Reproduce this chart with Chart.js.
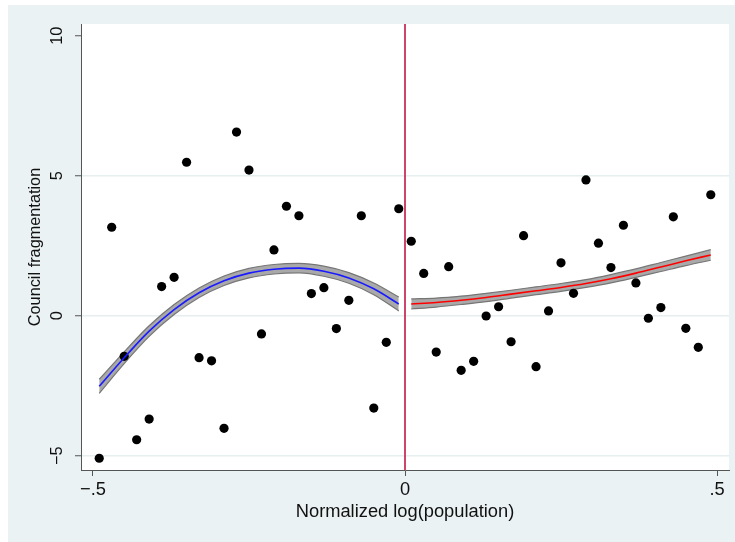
<!DOCTYPE html>
<html>
<head>
<meta charset="utf-8">
<script src="https://cdn.jsdelivr.net/npm/chart.js@4.4.0/dist/chart.umd.min.js"></script>
<style>
  html, body { margin: 0; padding: 0; background: #ffffff; }
  #wrap { width: 735px; height: 542px; }
</style>
</head>
<body>
<div id="wrap"><canvas id="c" width="735" height="542"></canvas></div>
<script>
// ---- data ----
const popLeft = [-0.49,-0.47,-0.45,-0.43,-0.41,-0.39,-0.37,-0.35,-0.33,-0.31,-0.29,-0.27,-0.25,-0.23,-0.21,-0.19,-0.17,-0.15,-0.13,-0.11,-0.09,-0.07,-0.05,-0.03,-0.01];
const fragLeft = [-5.09,3.16,-1.45,-4.43,-3.69,1.04,1.37,5.48,-1.50,-1.61,-4.02,6.56,5.20,-0.65,2.35,3.91,3.57,0.79,1.00,-0.46,0.55,3.57,-3.30,-0.95,3.82];
const popRight = [0.01,0.03,0.05,0.07,0.09,0.11,0.13,0.15,0.17,0.19,0.21,0.23,0.25,0.27,0.29,0.31,0.33,0.35,0.37,0.39,0.41,0.43,0.45,0.47,0.49];
const fragRight = [2.66,1.51,-1.30,1.75,-1.95,-1.63,-0.01,0.32,-0.93,2.86,-1.82,0.17,1.89,0.80,4.85,2.59,1.72,3.23,1.17,-0.09,0.29,3.53,-0.45,-1.13,4.32];

// fitted curves with confidence bands
const fitXLeft = [-0.49,-0.45,-0.41,-0.37,-0.33,-0.29,-0.25,-0.21,-0.17,-0.13,-0.09,-0.05,-0.01];
const fitLeft  = [-2.52,-1.50,-0.55,0.22,0.82,1.25,1.52,1.66,1.70,1.59,1.35,0.96,0.42];
const ciLoLeft = [-2.77,-1.71,-0.74,0.04,0.65,1.08,1.35,1.49,1.53,1.41,1.16,0.75,0.17];
const ciHiLeft = [-2.27,-1.29,-0.36,0.40,0.99,1.42,1.69,1.83,1.87,1.77,1.54,1.17,0.67];

const fitXRight = [0.01,0.05,0.09,0.13,0.17,0.21,0.25,0.29,0.33,0.37,0.41,0.45,0.49];
const fitRight  = [0.42,0.47,0.55,0.65,0.77,0.89,1.01,1.15,1.32,1.52,1.74,1.96,2.17];
const ciLoRight = [0.24,0.31,0.40,0.50,0.63,0.75,0.87,1.01,1.17,1.37,1.58,1.79,1.98];
const ciHiRight = [0.60,0.63,0.70,0.80,0.91,1.03,1.15,1.29,1.47,1.67,1.90,2.13,2.36];

const cutoff = 0;

const xTickValues = [-0.5, 0, 0.5];
const xTickLabels = ['\u2212.5', '0', '.5'];
const yTickValues = [-5, 0, 5, 10];
const yTickLabels = ['\u22125', '0', '5', '10'];

const xTitle = 'Normalized log(population)';
const yTitle = 'Council fragmentation';

// ---- helpers ----
const pts = (xs, ys) => xs.map((x, i) => ({ x: x, y: ys[i] }));

const bgPlugin = {
  id: 'bgPlugin',
  beforeDraw(chart) {
    const { ctx, chartArea: a } = chart;
    ctx.save();
    ctx.fillStyle = '#ffffff';
    ctx.fillRect(0, 0, chart.width, chart.height);
    ctx.fillStyle = '#eaf2f3';
    ctx.fillRect(8, 5, chart.width - 8, chart.height - 5);
    ctx.fillStyle = '#ffffff';
    ctx.fillRect(a.left, a.top, a.right - a.left, a.bottom - a.top);
    ctx.restore();
  }
};

const cutoffPlugin = {
  id: 'cutoffPlugin',
  beforeDatasetsDraw(chart) {
    const { ctx, chartArea: a, scales } = chart;
    const px = scales.x.getPixelForValue(cutoff);
    ctx.save();
    ctx.strokeStyle = '#c8305a';
    ctx.lineWidth = 1.8;
    ctx.beginPath();
    ctx.moveTo(px, a.top);
    ctx.lineTo(px, a.bottom);
    ctx.stroke();
    ctx.restore();
  }
};

const band = (data, fill) => ({
  data: data,
  showLine: true,
  borderColor: '#767676',
  borderWidth: 1.2,
  backgroundColor: '#a9a9a9',
  pointRadius: 0,
  fill: fill,
  cubicInterpolationMode: 'monotone',
  order: 3
});

const fitLine = (data, color) => ({
  data: data,
  showLine: true,
  borderColor: color,
  borderWidth: 1.6,
  pointRadius: 0,
  fill: false,
  cubicInterpolationMode: 'monotone',
  order: 1
});

Chart.defaults.font.family = '"Liberation Sans", Arial, Helvetica, sans-serif';
Chart.defaults.color = '#111111';

new Chart(document.getElementById('c'), {
  type: 'scatter',
  data: {
    datasets: [
      { data: pts(popLeft, fragLeft).concat(pts(popRight, fragRight)),
        pointRadius: 4.6, pointBackgroundColor: '#000000', pointBorderWidth: 0,
        pointHoverRadius: 4.6, order: 2 },
      band(pts(fitXLeft, ciLoLeft), false),
      band(pts(fitXLeft, ciHiLeft), '-1'),
      band(pts(fitXRight, ciLoRight), false),
      band(pts(fitXRight, ciHiRight), '-1'),
      fitLine(pts(fitXLeft, fitLeft), '#1a1aff'),
      fitLine(pts(fitXRight, fitRight), '#ff0000')
    ]
  },
  options: {
    responsive: false,
    animation: false,
    events: [],
    layout: { padding: { top: 24, right: 6, left: 0, bottom: 0 } },
    plugins: { legend: { display: false }, tooltip: { enabled: false } },
    scales: {
      x: {
        type: 'linear',
        min: -0.5192,
        max: 0.5192,
        afterBuildTicks: s => { s.ticks = xTickValues.map(v => ({ value: v })); },
        afterFit: s => { s.height = 72; },
        ticks: {
          callback: (v, i) => xTickLabels[i],
          font: { size: 18.3 },
          padding: 3,
          maxRotation: 0,
          color: '#111111'
        },
        grid: {
          drawOnChartArea: false,
          drawTicks: true,
          tickLength: 6,
          tickColor: '#555555',
          tickWidth: 1
        },
        border: { display: true, color: '#555555', width: 1 },
        title: {
          display: true,
          text: xTitle,
          font: { size: 18.3 },
          color: '#111111',
          padding: { top: 2, bottom: 19 }
        }
      },
      y: {
        type: 'linear',
        min: -5.51,
        max: 10.418,
        afterBuildTicks: s => { s.ticks = yTickValues.map(v => ({ value: v })); },
        afterFit: s => { s.width = 81; },
        ticks: {
          callback: (v, i) => yTickLabels[i],
          font: { size: 16.3 },
          minRotation: 90,
          maxRotation: 90,
          crossAlign: 'center',
          padding: 8,
          color: '#111111'
        },
        grid: {
          drawOnChartArea: true,
          drawTicks: true,
          tickLength: 6,
          color: ctx => (ctx.tick && ctx.tick.value === 10) ? 'rgba(0,0,0,0)' : '#e6eef0',
          lineWidth: 1.5,
          tickColor: '#555555',
          tickWidth: 1
        },
        border: { display: true, color: '#555555', width: 1 },
        title: {
          display: true,
          text: yTitle,
          font: { size: 16.3 },
          color: '#111111',
          padding: { top: 26, bottom: 0 }
        }
      }
    }
  },
  plugins: [bgPlugin, cutoffPlugin]
});
</script>
</body>
</html>
